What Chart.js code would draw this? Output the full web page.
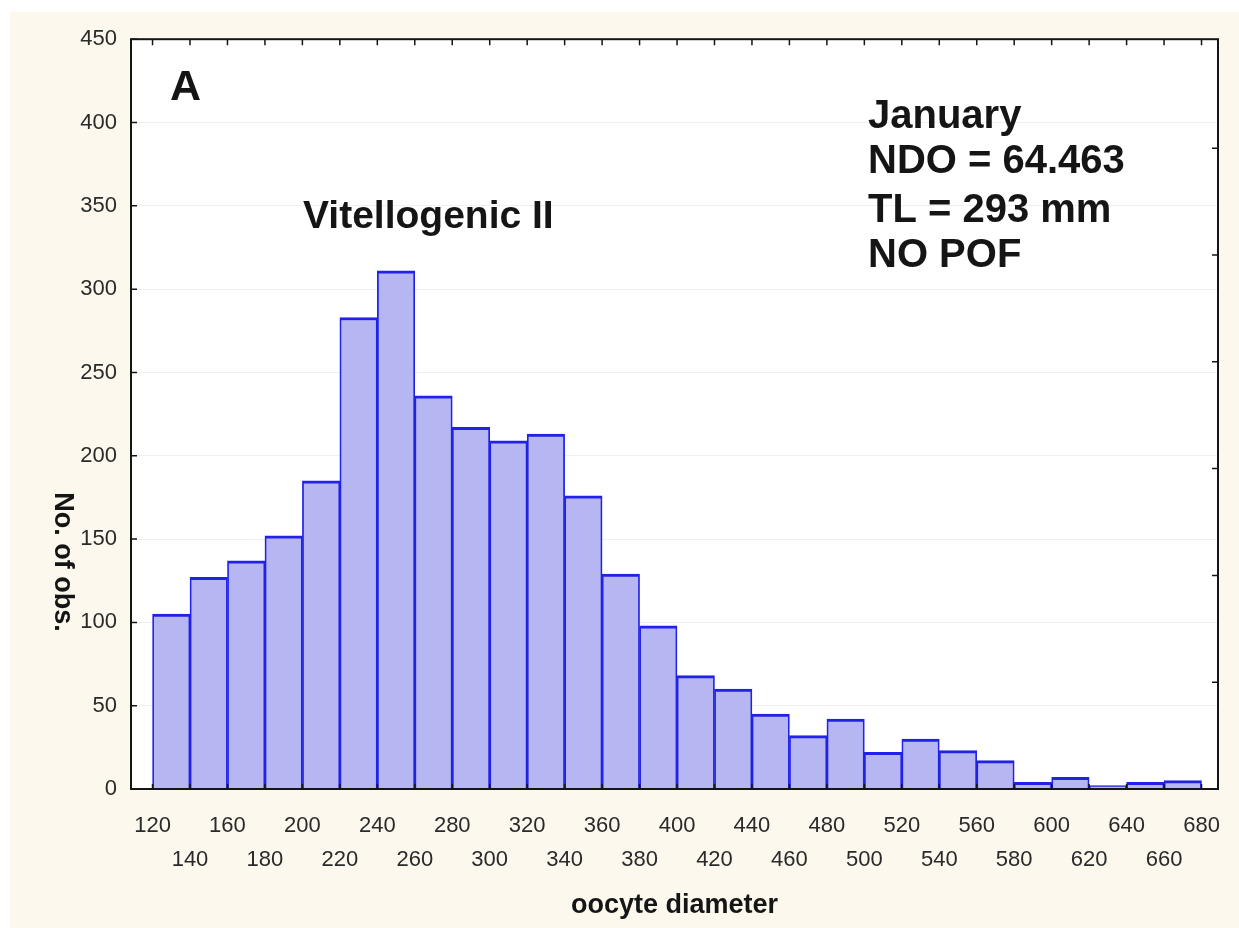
<!DOCTYPE html>
<html>
<head>
<meta charset="utf-8">
<title>Oocyte diameter - January</title>
<script src="https://cdn.jsdelivr.net/npm/chart.js@4.4.0/dist/chart.umd.min.js"></script>
<style>
  html,body{margin:0;padding:0;background:#fff;}
  #wrap{position:absolute;left:10px;top:12px;width:1229px;height:916px;}
</style>
</head>
<body>
<div id="wrap"><canvas id="myChart" width="1229" height="916"></canvas></div>
<script>
// histogram bins (centre of each 20 um class) and counts
const binCenters=[130,150,170,190,210,230,250,270,290,310,330,350,370,390,410,430,450,470,490,510,530,550,570,590,610,630,650,670];
const counts=[105,127,137,152,185,283,311,236,217,209,213,176,129,98,68,60,45,32,42,22,30,23,17,4,7,2,4,5];
const xTickLabels=[120,140,160,180,200,220,240,260,280,300,320,340,360,380,400,420,440,460,480,500,520,540,560,580,600,620,640,660,680];
const yTickValues=[0,50,100,150,200,250,300,350,400,450];
// right axis (% of obs.), only tick marks are visible
const pctTicks=[2,4,6,8,10,12];
const pctMax=14.04;

const panelLetter='A';
const stageLabel='Vitellogenic II';
const infoLines=['January','NDO = 64.463','TL = 293 mm','NO POF'];
const xTitle='oocyte diameter';
const yTitle='No. of obs.';

const FONT='"Liberation Sans", Arial, sans-serif';

const extras={
  id:'extras',
  beforeDraw(chart){
    const {ctx,chartArea:a}=chart;
    ctx.save();
    ctx.fillStyle='#fcf8ee';
    ctx.fillRect(0,0,chart.width,chart.height);
    ctx.fillStyle='#ffffff';
    ctx.fillRect(a.left,a.top,a.right-a.left,a.bottom-a.top);
    ctx.restore();
  },
  afterDatasetsDraw(chart){
    const {ctx,chartArea:a,scales}=chart;
    const x=scales.x, y=scales.y, y2=scales.y2;
    ctx.save();
    ctx.strokeStyle='#151515';
    ctx.lineWidth=2;
    ctx.strokeRect(a.left,a.top,a.right-a.left,a.bottom-a.top);
    ctx.lineWidth=1.5;
    ctx.beginPath();
    xTickLabels.forEach(v=>{
      const px=x.getPixelForValue(v);
      ctx.moveTo(px,a.top);ctx.lineTo(px,a.top+6);
      ctx.moveTo(px,a.bottom);ctx.lineTo(px,a.bottom-5);
    });
    yTickValues.forEach(v=>{
      const py=y.getPixelForValue(v);
      ctx.moveTo(a.left,py);ctx.lineTo(a.left+6,py);
    });
    pctTicks.forEach(v=>{
      const py=y2.getPixelForValue(v);
      ctx.moveTo(a.right,py);ctx.lineTo(a.right-6,py);
    });
    ctx.stroke();
    ctx.restore();
  },
  afterDraw(chart){
    const {ctx,chartArea:a}=chart;
    ctx.save();
    ctx.fillStyle='#151515';
    ctx.textAlign='left';
    ctx.textBaseline='alphabetic';
    ctx.font='bold 43px '+FONT;
    ctx.fillText(panelLetter,160,88);
    ctx.font='bold 39px '+FONT;
    ctx.fillText(stageLabel,293,216);
    ctx.font='bold 40px '+FONT;
    const base=[116,161,210,255];
    infoLines.forEach((t,i)=>ctx.fillText(t,858,base[i]));
    ctx.font='bold 27px '+FONT;
    ctx.textAlign='center';
    ctx.fillText(xTitle,(a.left+a.right)/2,901);
    ctx.translate(52,550);
    ctx.rotate(Math.PI/2);
    ctx.textBaseline='middle';
    ctx.fillText(yTitle,0,0);
    ctx.restore();
  }
};

const ctx=document.getElementById('myChart').getContext('2d');
new Chart(ctx,{
  type:'bar',
  data:{
    datasets:[{
      label:'No. of obs.',
      data:binCenters.map((c,i)=>({x:c,y:counts[i]})),
      backgroundColor:'#b6b6f3',
      borderColor:'#2222e6',
      borderWidth:{top:3,left:1.75,right:1.75,bottom:0},
      borderSkipped:'start',
      barPercentage:1,
      categoryPercentage:1
    }]
  },
  options:{
    responsive:false,
    animation:false,
    layout:{padding:{left:0,right:21,top:23,bottom:0}},
    plugins:{legend:{display:false},tooltip:{enabled:false}},
    scales:{
      x:{
        type:'linear',
        min:108.5,
        max:688.8,
        offset:false,
        afterBuildTicks:s=>{s.ticks=xTickLabels.map(v=>({value:v}));},
        afterFit:s=>{s.height=139;},
        grid:{display:false},
        border:{display:false},
        ticks:{
          autoSkip:false,
          maxRotation:0,
          minRotation:0,
          padding:12,
          color:'#2a2a2a',
          font:{family:FONT,size:22,lineHeight:1.545},
          callback:(v,i)=>i%2===0?[String(v),'']:['',String(v)]
        }
      },
      y:{
        min:0,
        max:450,
        afterBuildTicks:s=>{s.ticks=yTickValues.map(v=>({value:v}));},
        afterFit:s=>{s.width=121;},
        grid:{color:'rgba(0,0,0,0.06)',lineWidth:1,drawTicks:false},
        border:{display:false},
        ticks:{padding:14,color:'#2a2a2a',font:{family:FONT,size:22}}
      },
      y2:{
        position:'right',
        min:0,
        max:pctMax,
        afterFit:s=>{s.width=0;},
        grid:{display:false,drawTicks:false},
        border:{display:false},
        ticks:{display:false}
      }
    }
  },
  plugins:[extras]
});
</script>
</body>
</html>
